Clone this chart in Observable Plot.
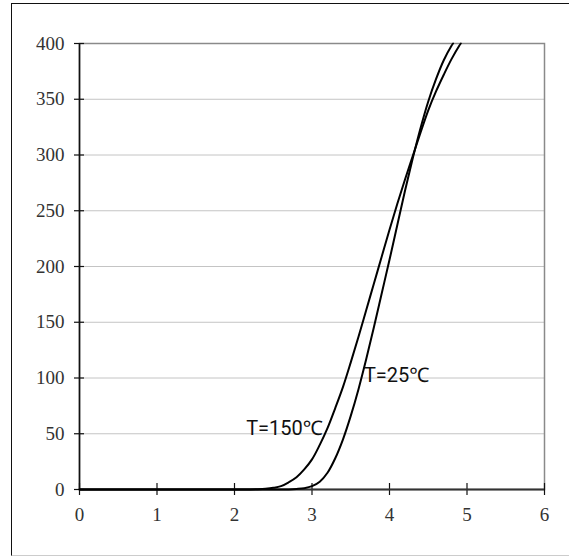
<!DOCTYPE html>
<html>
<head>
<meta charset="utf-8">
<script src="https://cdn.jsdelivr.net/npm/d3@7"></script>
<script src="https://cdn.jsdelivr.net/npm/@observablehq/plot@0.6"></script>
<style>
  html, body { margin: 0; padding: 0; background: #fff; }
  #wrap { position: relative; width: 569px; height: 556px; overflow: hidden; }
  #border { position: absolute; left: 11px; top: 3px; width: 600px; height: 551px;
            border-left: 1.5px solid #111; border-top: 1.5px solid #111; border-bottom: 1.5px solid #ccc; }
  #chart { position: absolute; left: 0; top: 0; }
</style>
</head>
<body>
<div id="wrap"><div id="border"></div><div id="chart"></div></div>
<script>
const xTicks = [0, 1, 2, 3, 4, 5, 6];
const yTicks = [0, 50, 100, 150, 200, 250, 300, 350, 400];

const t150X = [0, 1, 2, 2.2, 2.3, 2.4, 2.5, 2.6, 2.7, 2.8, 2.9, 3.0, 3.1, 3.2, 3.3, 3.4, 3.5, 3.6, 3.7, 3.8, 3.9, 4.0, 4.1, 4.2, 4.3, 4.4, 4.5, 4.6, 4.7, 4.8, 4.9, 4.92];
const t150Y = [0, 0, 0, 0.1, 0.3, 0.7, 1.5, 3, 6.5, 11, 18, 27, 40, 55, 73, 92, 114, 137, 161, 185, 209, 233, 256, 278, 299, 320, 340, 357, 372, 386, 398, 400];

const t25X = [0, 1, 2, 2.6, 2.7, 2.8, 2.9, 3.0, 3.1, 3.2, 3.3, 3.4, 3.5, 3.6, 3.7, 3.8, 3.9, 4.0, 4.1, 4.2, 4.3, 4.4, 4.5, 4.6, 4.7, 4.8, 4.82];
const t25Y = [0, 0, 0, 0, 0.1, 0.5, 1.2, 3, 7, 15, 28, 45, 66, 90, 117, 146, 176, 206, 237, 268, 297, 324, 348, 368, 385, 398, 400];

const labels = [
  {x: 2.15, y: 55, text: "T=150℃"},
  {x: 3.67, y: 102, text: "T=25℃"}
];

const t150 = t150X.map((x, i) => ({x, y: t150Y[i]}));
const t25 = t25X.map((x, i) => ({x, y: t25Y[i]}));

const tickFont = "'Liberation Serif', serif";

const chart = Plot.plot({
  width: 569,
  height: 556,
  marginLeft: 79,
  marginRight: 25,
  marginTop: 43,
  marginBottom: 67,
  style: {background: "transparent", fontFamily: tickFont, fontSize: "19px", color: "#222"},
  x: {domain: [0, 6], axis: null},
  y: {domain: [0, 400], axis: null},
  marks: [
    Plot.gridY(yTicks, {stroke: "#c4c4c4", strokeOpacity: 1, strokeWidth: 1}),
    Plot.frame({stroke: "#8a8a8a", strokeWidth: 1.5}),
    Plot.axisY(yTicks, {label: null, tickSize: 5, tickPadding: 10, stroke: "#111", strokeWidth: 1.2, fontFamily: tickFont, fontSize: 19, fill: "#333"}),
    Plot.axisY(yTicks, {label: null, tickSize: -5, tickFormat: () => "", stroke: "#111", strokeWidth: 1.2}),
    Plot.axisX(xTicks, {label: null, tickSize: 6, tickPadding: 12, stroke: "#111", strokeWidth: 1.2, fontFamily: tickFont, fontSize: 19, fill: "#333"}),
    Plot.axisX(xTicks, {label: null, tickSize: -6, tickFormat: () => "", stroke: "#111", strokeWidth: 1.2}),
    Plot.ruleX([0], {stroke: "#111", strokeWidth: 1.6}),
    Plot.ruleY([0], {stroke: "#333", strokeWidth: 2}),
    Plot.line(t150, {x: "x", y: "y", stroke: "#000", strokeWidth: 2, curve: "catmull-rom"}),
    Plot.line(t25, {x: "x", y: "y", stroke: "#000", strokeWidth: 2, curve: "catmull-rom"}),
    Plot.text(labels, {x: "x", y: "y", text: "text", textAnchor: "start", fontFamily: "Roboto, 'Noto Sans', 'DejaVu Sans', sans-serif", fontSize: 20, fill: "#111"})
  ]
});
document.getElementById("chart").appendChild(chart);
</script>
</body>
</html>
